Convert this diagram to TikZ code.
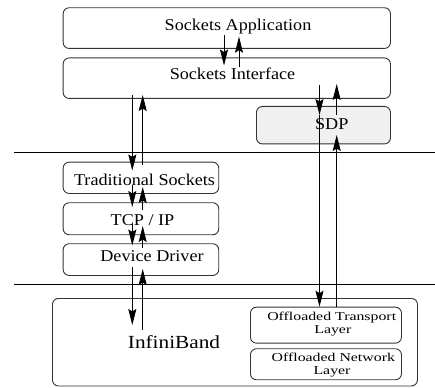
\documentclass[tikz,border=0pt]{standalone}
\usepackage{fontspec}
\setmainfont{Liberation Serif}
\newfontfamily\wideA[FakeStretch=1.1]{Liberation Serif}
\newfontfamily\wideB[FakeStretch=1.15]{Liberation Serif}
\newfontfamily\wideC[FakeStretch=1.32]{Liberation Serif}
\usetikzlibrary{arrows.meta}
\tikzset{
  box/.style={draw=black!80, line width=0.9pt, rounded corners=6pt, inner sep=0pt, anchor=north west},
  lbl/.style={anchor=base, inner sep=0pt, font=\wideA\fontsize{16.5}{18}\selectfont},
  lblib/.style={anchor=base, inner sep=0pt, font=\wideB\fontsize{18.5}{20}\selectfont},
  lblsm/.style={anchor=base, inner sep=0pt, font=\wideC\fontsize{12}{13}\selectfont},
  sep/.style={line width=1.5pt, black},
  arr/.style={line width=0.8pt, -{Stealth[length=16pt, width=8pt, inset=2.5pt]}}
}
\begin{document}
\begin{tikzpicture}[x=1pt, y=-1pt]
\useasboundingbox (0,0) rectangle (435,387);

% separators
\coordinate (s1a) at (14,152.7); \coordinate (s1b) at (435,152.7);
\coordinate (s2a) at (14,284.3); \coordinate (s2b) at (435,284.3);
\draw[sep] (s1a) -- (s1b);
\draw[sep] (s2a) -- (s2b);

% boxes
\node[box, minimum width=327.3pt, minimum height=40.7pt] (app) at (62.7,7.3) {};
\node[box, minimum width=327.3pt, minimum height=40.5pt] (iface) at (62.7,57.5) {};
\node[box, fill=black!6, minimum width=134pt, minimum height=37.5pt] (sdp) at (256,106) {};
\node[box, minimum width=155.6pt, minimum height=31.3pt] (trad) at (62.7,161.7) {};
\node[box, minimum width=155.6pt, minimum height=32pt] (tcp) at (62.7,202.3) {};
\node[box, minimum width=155.6pt, minimum height=31.7pt] (dev) at (62.7,243.3) {};
\node[box, minimum width=365pt, minimum height=87.5pt] (ib) at (52,298) {};
\node[box, minimum width=151pt, minimum height=36pt] (olt) at (250,306.7) {};
\node[box, minimum width=151pt, minimum height=31pt] (oln) at (250,348.3) {};

% labels
\node[lbl] (appT) at (238,30.7) {Sockets Application};
\node[lbl] (ifaceT) at (232.5,80) {Sockets Interface};
\node[lbl] (sdpT) at (331.7,129.3) {SDP};
\node[lbl] (tradT) at (144.5,185) {Traditional Sockets};
\node[lbl] (tcpT) at (142.5,225) {TCP / IP};
\node[lbl] (devT) at (152,261.7) {Device Driver};
\node[lblib] (ibT) at (174,348.3) {InfiniBand};
\node[lblsm] (oltT1) at (331.7,320.7) {Offloaded Transport};
\node[lblsm] (oltT2) at (332.8,333) {Layer};
\node[lblsm] (olnT1) at (333.3,361.7) {Offloaded Network};
\node[lblsm] (olnT2) at (332,374) {Layer};

% arrow end points
\coordinate (a1s) at (224,35);    \coordinate (a1e) at (224,65.5);
\coordinate (a2s) at (239,66.7);  \coordinate (a2e) at (239,36.7);
\coordinate (a3s) at (132.3,95);  \coordinate (a3e) at (132.3,170.5);
\coordinate (a4s) at (142.7,165.5); \coordinate (a4e) at (142.7,95);
\coordinate (a5s) at (319.5,85);  \coordinate (a5e) at (319.5,115);
\coordinate (a6s) at (336.7,115); \coordinate (a6e) at (336.7,84);
\coordinate (a7s) at (319.5,115); \coordinate (a7e) at (319.5,306.7);
\coordinate (a8s) at (336.7,306.7); \coordinate (a8e) at (336.7,135);
\coordinate (b1s) at (132.3,185); \coordinate (b1e) at (132.3,207);
\coordinate (b2s) at (142.7,210); \coordinate (b2e) at (142.7,187);
\coordinate (b3s) at (132.3,224); \coordinate (b3e) at (132.3,245.5);
\coordinate (b4s) at (142.7,248); \coordinate (b4e) at (142.7,226);
\coordinate (b5s) at (132.3,267); \coordinate (b5e) at (132.3,325);
\coordinate (b6s) at (142.7,330); \coordinate (b6e) at (142.7,269);

\foreach \p in {a1,a2,a3,a4,a5,a6,a7,a8,b1,b2,b3,b4,b5,b6}
  \draw[arr] (\p s) -- (\p e);
\end{tikzpicture}
\end{document}
